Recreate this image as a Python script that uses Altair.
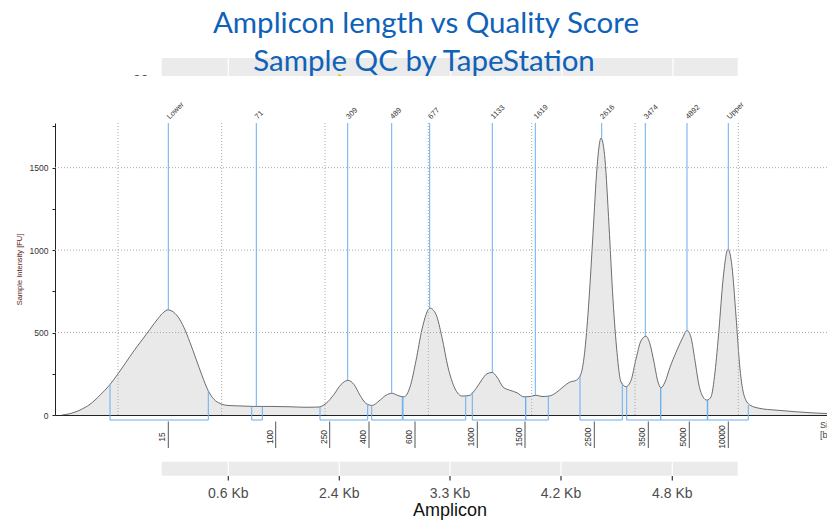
import altair as alt
import pandas as pd

# ---------------- data ----------------
# electropherogram trace: migration position vs sample intensity [FU]
trace_pos = [62, 70, 80, 90, 100, 110, 118, 126, 134, 142, 150, 158, 164, 168, 172, 178, 184, 190,
             196, 202, 208, 214, 220, 228, 240, 256, 270, 290, 305, 318, 326, 334, 341, 348, 354,
             360, 366, 372, 379, 386, 392, 398, 404, 410, 416, 422, 430, 436, 442, 448, 455, 462,
             469, 476, 482, 487, 492, 497, 503, 510, 517, 524, 530, 536, 542, 549, 556, 563, 570,
             576, 581, 585, 589, 593, 597, 601, 605, 609, 613, 617, 621, 626, 631, 636, 641, 646,
             650, 654, 658, 661, 665, 670, 676, 682, 687, 691, 695, 699, 703, 707, 711, 715, 719,
             723, 728, 732, 736, 740, 744, 750, 760, 775, 795, 815, 827]
trace_fu = [0, 8, 30, 65, 120, 185, 250, 320, 390, 455, 520, 585, 625, 638, 630, 595, 530, 440,
            340, 240, 150, 95, 70, 58, 55, 52, 52, 50, 47, 48, 70, 125, 185, 210, 185,
            120, 70, 58, 85, 120, 132, 118, 110, 170, 330, 520, 648, 610, 470, 290, 160, 115,
            118, 160, 215, 250, 258, 230, 170, 150, 135, 110, 112, 120, 112, 115, 135, 170, 200,
            210, 250, 400, 700, 1100, 1500, 1680, 1550, 1150, 700, 380, 200, 172, 210, 340, 450, 478,
            430, 320, 200, 165, 200, 290, 380, 460, 512, 470, 330, 180, 110, 90, 110, 260, 520,
            820, 1005, 900, 600, 280, 120, 60, 40, 30, 20, 12, 9]

peak_names = ["Lower", "71", "309", "489", "677", "1133", "1619", "2616", "3474", "4892", "Upper"]
peak_pos = [168.3, 256.3, 347.7, 391.7, 429.7, 492.3, 535.3, 601.7, 645.3, 687.0, 728.3]
peak_fu = [638, 52, 210, 132, 648, 258, 120, 1680, 478, 512, 1005]

bracket_start = [110.0, 251.7, 320.0, 371.7, 403.0, 472.3, 525.7, 580.0, 626.7, 660.7, 707.7]
bracket_end = [208.3, 262.3, 367.7, 402.3, 465.7, 525.7, 548.3, 622.3, 660.7, 707.3, 748.3]
bracket_start_fu = [185, 52, 50, 58, 112, 140, 110, 240, 172, 165, 90]
bracket_end_fu = [150, 52, 68, 110, 115, 110, 115, 195, 165, 90, 60]

ladder_labels = ["15", "100", "250", "400", "600", "1000", "1500", "2500", "3500", "5000", "10000"]
ladder_pos = [168.3, 275.7, 329.7, 369.0, 415.0, 477.3, 525.0, 594.3, 648.3, 689.3, 728.3]

grid_pos = [118.0, 221.7, 325.0, 428.3, 531.7, 635.0, 738.3]
grid_fu = [500, 1000, 1500]
y_ticks = [0, 250, 500, 750, 1000, 1250, 1500, 1750]

amplicon_labels = ["0.6 Kb", "2.4 Kb", "3.3 Kb", "4.2 Kb", "4.8 Kb"]
amplicon_pos = [228.3, 339.3, 450.0, 561.0, 672.3]
band_extent = [161.7, 737.7]
top_band_lines = [228.3, 450.7, 562.0, 673.0]

title_line1 = "Amplicon length vs Quality Score"
title_line2 = "Sample QC by TapeStation"

# ---------------- chart ----------------
XD = [55, 827]
YD = [0, 1771]
xs = alt.Scale(domain=XD, nice=False, zero=False)
ys = alt.Scale(domain=YD, nice=False, zero=False)
FONT = "Liberation Sans"
BLUE = "#68adf0"
TITLE_BLUE = "#0E62B8"

XAX = alt.Axis(domain=True, domainColor="#222", domainWidth=1, ticks=False,
               labels=False, grid=False, title=None)
YAX = alt.Axis(values=y_ticks, format="d", grid=False, domainColor="#222", domainWidth=1,
               tickColor="#222", tickSize=3, labelFont=FONT, labelFontSize=8.5, labelColor="#333",
               labelPadding=4,
               labelExpr="datum.value % 500 == 0 ? datum.label : ''",
               title="Sample Intensity [FU]", titleFont=FONT, titleFontSize=7.5,
               titleFontWeight="normal", titleColor="#5a2020", titlePadding=6)


def X(f):
    return alt.X(f, scale=xs, axis=XAX)


def Y(f):
    return alt.Y(f, scale=ys, axis=YAX)


trace = pd.DataFrame({"pos": trace_pos, "fu": trace_fu})
peaks = pd.DataFrame({"name": peak_names, "pos": peak_pos, "fu": peak_fu})
brackets = pd.DataFrame({"x0": bracket_start, "x1": bracket_end,
                         "f0": bracket_start_fu, "f1": bracket_end_fu})
ladder = pd.DataFrame({"label": ladder_labels, "pos": ladder_pos})
vgrid = pd.DataFrame({"pos": grid_pos})
hgrid = pd.DataFrame({"fu": grid_fu})
amp = pd.DataFrame({"label": amplicon_labels, "pos": amplicon_pos})
band = pd.DataFrame({"x0": [band_extent[0]], "x1": [band_extent[1]]})
tlines = pd.DataFrame({"pos": top_band_lines})


def txt(df, py, **kw):
    return alt.Chart(df).mark_text(**kw).encode(x=X("pos:Q"), y=alt.value(py), text="t:N")


area = alt.Chart(trace).mark_area(
    color="#e0e0e0", interpolate="monotone",
    line={"color": "#4a4a4a", "strokeWidth": 0.8}).encode(x=X("pos:Q"), y=Y("fu:Q"))

# top grey strip (cropped panel)
top_band = alt.Chart(band).mark_rect(color="#ebebeb").encode(
    x=X("x0:Q"), x2="x1:Q", y=alt.value(-65), y2=alt.value(-47))
top_band_white = alt.Chart(tlines).mark_rule(color="white", strokeWidth=1.2).encode(
    x=X("pos:Q"), y=alt.value(-65), y2=alt.value(-47))
thirty = txt(pd.DataFrame({"t": ["30"], "pos": [133]}), -49,
             align="left", baseline="top", font=FONT, fontSize=14, color="#4d4d4d")
cover = alt.Chart(pd.DataFrame({"x0": [118], "x1": [160]})).mark_rect(color="white").encode(
    x=X("x0:Q"), x2="x1:Q", y=alt.value(-47), y2=alt.value(-30))
yellow = alt.Chart(pd.DataFrame({"x0": [338], "x1": [341]})).mark_rect(color="#e0cc00").encode(
    x=X("x0:Q"), x2="x1:Q", y=alt.value(-48.5), y2=alt.value(-47))

title1 = txt(pd.DataFrame({"t": [title_line1], "pos": [426]}), -90,
             align="center", baseline="alphabetic", font="Lato", fontSize=29.5, color=TITLE_BLUE)
title2 = txt(pd.DataFrame({"t": [title_line2], "pos": [424]}), -52.5,
             align="center", baseline="alphabetic", font="Lato", fontSize=29.5, color=TITLE_BLUE)

# dotted grid
vg = alt.Chart(vgrid).mark_rule(color="#a8a8a8", strokeDash=[1, 2], strokeWidth=1).encode(
    x=X("pos:Q"), y=alt.value(0), y2=alt.value(292))
hg = alt.Chart(hgrid).mark_rule(color="#a8a8a8", strokeDash=[1, 2], strokeWidth=1).encode(
    y=Y("fu:Q"), x=alt.value(0), x2=alt.value(772))

markers = alt.Chart(peaks).mark_rule(color=BLUE, strokeWidth=1).encode(
    x=X("pos:Q"), y=Y("fu:Q"), y2=alt.value(0))
peak_labels = alt.Chart(peaks).mark_text(
    align="left", baseline="middle", angle=315, font=FONT, fontSize=7.5, color="#333").encode(
    x=X("pos:Q"), y=alt.value(-5), text="name:N")

br_bottom = alt.Chart(brackets).mark_rule(color=BLUE, strokeWidth=1).encode(
    x=X("x0:Q"), x2="x1:Q", y=alt.value(297))
br_left = alt.Chart(brackets).mark_rule(color=BLUE, strokeWidth=1).encode(
    x=X("x0:Q"), y=Y("f0:Q"), y2=alt.value(297))
br_right = alt.Chart(brackets).mark_rule(color=BLUE, strokeWidth=1).encode(
    x=X("x1:Q"), y=Y("f1:Q"), y2=alt.value(297))

lad_ticks = alt.Chart(ladder).mark_rule(color="#555", strokeWidth=1).encode(
    x=X("pos:Q"), y=alt.value(298.5), y2=alt.value(325))
lad_text = alt.Chart(ladder).mark_text(
    align="center", baseline="bottom", angle=270, font=FONT, fontSize=8.5, color="#333", dy=-1).encode(
    x=X("pos:Q"), y=alt.value(314), text="label:N")

size1 = txt(pd.DataFrame({"t": ["Size"], "pos": [820]}), 302,
            align="left", baseline="middle", font=FONT, fontSize=9, color="#444")
size2 = txt(pd.DataFrame({"t": ["[bp]"], "pos": [820]}), 312,
            align="left", baseline="middle", font=FONT, fontSize=9, color="#444")

# bottom amplicon axis strip
bot_band = alt.Chart(band).mark_rect(color="#ebebeb").encode(
    x=X("x0:Q"), x2="x1:Q", y=alt.value(338.7), y2=alt.value(352.7))
bot_white = alt.Chart(amp).mark_rule(color="white", strokeWidth=1.2).encode(
    x=X("pos:Q"), y=alt.value(338.7), y2=alt.value(352.7))
bot_ticks = alt.Chart(amp).mark_rule(color="#333", strokeWidth=1.2).encode(
    x=X("pos:Q"), y=alt.value(353), y2=alt.value(357.5))
bot_labels = alt.Chart(amp).mark_text(
    align="center", baseline="middle", font=FONT, fontSize=14, color="#4d4d4d").encode(
    x=X("pos:Q"), y=alt.value(371), text="label:N")
bot_title = txt(pd.DataFrame({"t": ["Amplicon"], "pos": [450]}), 388,
                align="center", baseline="middle", font=FONT, fontSize=18, color="#111")

chart = alt.layer(
    area, top_band, top_band_white, thirty, cover, yellow, title1, title2,
    vg, hg, markers, br_bottom, br_left, br_right,
    lad_ticks, lad_text, peak_labels, size1, size2,
    bot_band, bot_white, bot_ticks, bot_labels, bot_title
).properties(
    width=772, height=292,
    autosize=alt.AutoSizeParams(type="none"),
    padding={"left": 47, "top": 115, "right": 0, "bottom": 105}
).configure_view(stroke=None)

chart.save("out.html", embed_options={"renderer": "svg", "actions": False})
